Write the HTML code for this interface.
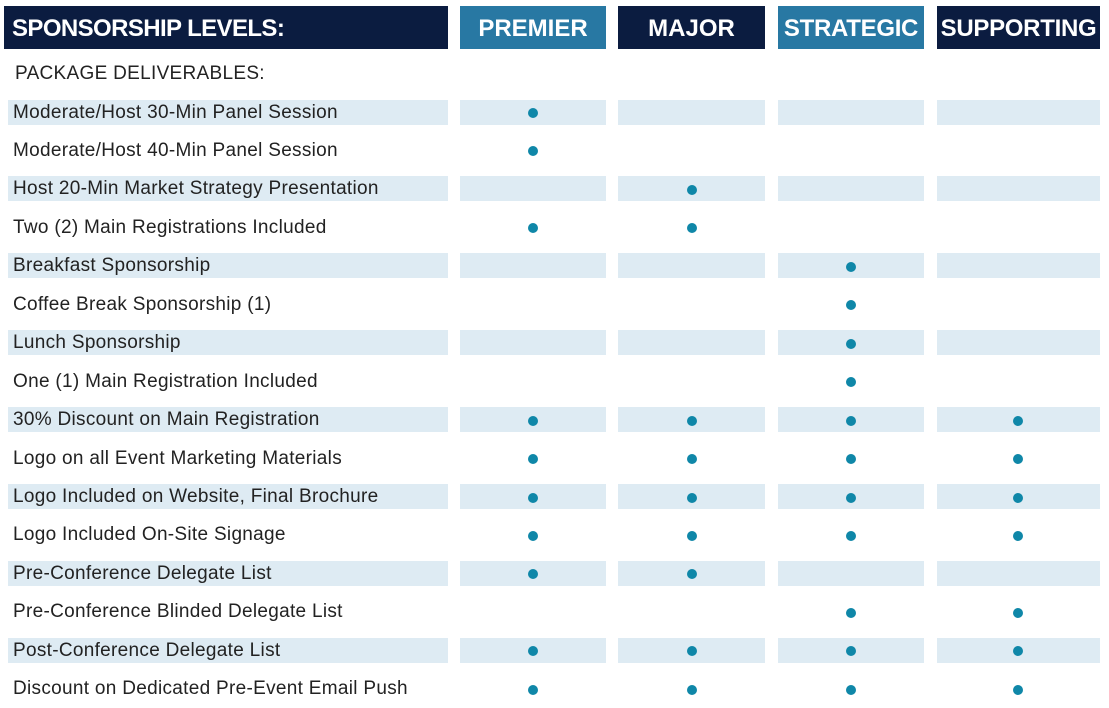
<!DOCTYPE html>
<html><head><meta charset="utf-8"><style>
body{margin:0;width:1109px;height:708px;background:#fff;position:relative;overflow:hidden;font-family:"Liberation Sans",sans-serif}
.h{position:absolute;top:6px;height:43px;color:#fff;font-weight:bold;font-size:24px;line-height:45px;text-align:center}
.b{position:absolute;height:25px;background:#deebf3}
.t{position:absolute;left:13px;font-size:19px;color:#222;line-height:25px;letter-spacing:0.3px}
.d{position:absolute;width:10px;height:10px;border-radius:50%;background:#0f87a8}
</style></head><body>
<div class="h" style="left:4px;width:444px;background:#0b1c40;text-align:left;padding-left:8px;box-sizing:border-box;letter-spacing:-0.6px">SPONSORSHIP LEVELS:</div>
<div class="h" style="left:460px;width:146px;background:#2878a3">PREMIER</div>
<div class="h" style="left:618px;width:147px;background:#0b1c40">MAJOR</div>
<div class="h" style="left:778px;width:146px;background:#2878a3;letter-spacing:-0.3px">STRATEGIC</div>
<div class="h" style="left:937px;width:163px;background:#0b1c40;letter-spacing:-0.3px">SUPPORTING</div>
<div class="t" style="top:61px;left:15px;font-size:19px">PACKAGE DELIVERABLES:</div>
<div id="r"></div>
<script>
var rows=[["Moderate/Host 30-Min Panel Session","1000"],["Moderate/Host 40-Min Panel Session","1000"],["Host 20-Min Market Strategy Presentation","0100"],["Two (2) Main Registrations Included","1100"],["Breakfast Sponsorship","0010"],["Coffee Break Sponsorship (1)","0010"],["Lunch Sponsorship","0010"],["One (1) Main Registration Included","0010"],["30% Discount on Main Registration","1111"],["Logo on all Event Marketing Materials","1111"],["Logo Included on Website, Final Brochure","1111"],["Logo Included On-Site Signage","1111"],["Pre-Conference Delegate List","1100"],["Pre-Conference Blinded Delegate List","0011"],["Post-Conference Delegate List","1111"],["Discount on Dedicated Pre-Event Email Push","1111"]];
var cols=[[460,146],[618,147],[778,146],[937,163]],cx=[533,692,851,1018],h="";
rows.forEach(function(r,i){var c=112+i*38.45,top=c-12.5;
if(i%2==0){h+='<div class="b" style="left:8px;width:440px;top:'+top+'px"></div>';cols.forEach(function(k){h+='<div class="b" style="left:'+k[0]+'px;width:'+k[1]+'px;top:'+top+'px"></div>'})}
h+='<div class="t" style="top:'+top+'px">'+r[0]+'</div>';
for(var j=0;j<4;j++)if(r[1][j]=="1")h+='<div class="d" style="left:'+(cx[j]-5)+'px;top:'+(c-4)+'px"></div>';});
document.getElementById("r").innerHTML=h;
</script>
</body></html>
